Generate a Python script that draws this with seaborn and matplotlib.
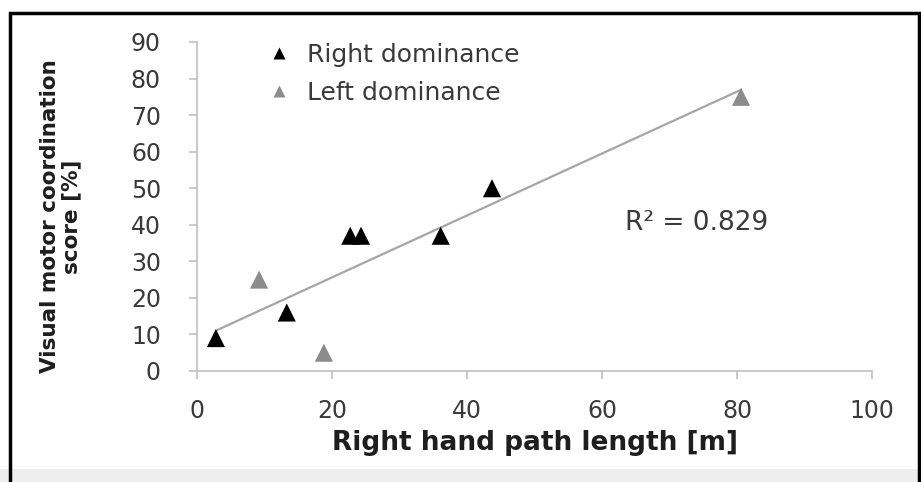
import pandas as pd
import matplotlib.pyplot as plt
import seaborn as sns
from matplotlib.patches import Rectangle

# data
right_x = [2.8, 13.3, 22.7, 24.3, 36.1, 43.7]
right_y = [9, 16, 37, 37, 37, 50]
left_x = [9.2, 18.8, 80.6]
left_y = [25, 5, 75]
groups = ['Right dominance', 'Left dominance']
r2_text = 'R² = 0.829'
x_ticks = [0, 20, 40, 60, 80, 100]
y_ticks = [0, 10, 20, 30, 40, 50, 60, 70, 80, 90]

df = pd.DataFrame({
    'path': right_x + left_x,
    'score': right_y + left_y,
    'group': [groups[0]] * len(right_x) + [groups[1]] * len(left_x),
})

sns.set_style('white')
plt.rcParams['font.family'] = ['DejaVu Sans']

fig = plt.figure(figsize=(9.21, 4.82), dpi=100)
ax = fig.add_axes([0.2139, 0.2303, 0.7329, 0.6826])

# linear trendline over all points
sns.regplot(data=df, x='path', y='score', scatter=False, ci=None, truncate=True,
            color='#a6a6a6', line_kws={'lw': 1.6, 'zorder': 1}, ax=ax)

sns.scatterplot(data=df, x='path', y='score', hue='group', hue_order=groups,
                palette={groups[0]: '#000000', groups[1]: '#8c8c8c'},
                marker='^', s=170, edgecolor='none', zorder=3, ax=ax)

ax.set_xlim(0, 100)
ax.set_ylim(0, 90)
ax.set_xticks(x_ticks)
ax.set_yticks(y_ticks)
ax.tick_params(axis='both', bottom=True, left=True, labelsize=17,
               colors='#c0c0c0', length=6, width=1.2, direction='out')
ax.tick_params(axis='both', labelcolor='#3a3a3a')
ax.tick_params(axis='x', pad=14)
ax.tick_params(axis='y', pad=20)
for s in ['top', 'right']:
    ax.spines[s].set_visible(False)
for s in ['left', 'bottom']:
    ax.spines[s].set_color('#c0c0c0')
    ax.spines[s].set_linewidth(1.2)

ax.set_xlabel('Right hand path length [m]', fontsize=19, fontweight='bold',
              color='#1e1e1e', labelpad=5)
ax.set_ylabel('Visual motor coordination\nscore [%]', fontsize=15.5, fontweight='bold',
              color='#1e1e1e', linespacing=1.05)
ax.yaxis.set_label_coords(-0.172, 0.47)

ax.text(63.4, 40.5, r2_text, fontsize=19, color='#3a3a3a', va='center', ha='left')

leg = ax.legend(loc='upper left', bbox_to_anchor=(0.07, 1.065), frameon=False,
                fontsize=18, handlelength=1.0, handletextpad=0.6,
                labelspacing=0.55, markerscale=0.7)
for t in leg.get_texts():
    t.set_color('#3a3a3a')

# outer frame of the cropped figure
fig.patches.append(Rectangle((0, 0), 1, 0.026, transform=fig.transFigure,
                             facecolor='#eeeeee', edgecolor='none', zorder=-2))
fig.patches.append(Rectangle((0.011, -0.05), 0.987, 1.023, transform=fig.transFigure,
                             facecolor='none', edgecolor='black', lw=2.5, zorder=5))

fig.savefig('out.png', dpi=100)
